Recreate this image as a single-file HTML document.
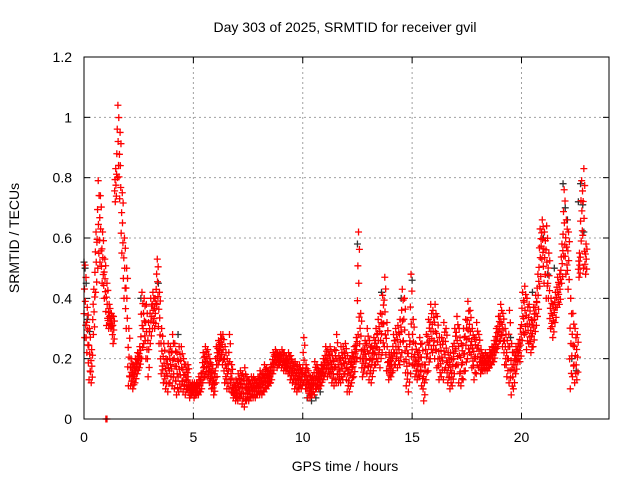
<!DOCTYPE html>
<html><head><meta charset="utf-8"><style>
body{margin:0;background:#fff}
svg{display:block;font-family:"Liberation Sans",sans-serif}
</style></head><body>
<svg id="chart" width="640" height="480">
<g id="grid"></g>
<g id="axes"></g>
<g id="black"></g>
<g id="red"></g>
<rect x="84" y="57" width="525" height="362" fill="none" stroke="#000" stroke-width="1"/>
<text x="345" y="32" font-size="14" text-anchor="middle">Day 303 of 2025, SRMTID for receiver gvil</text>
<text x="345" y="471" font-size="14" text-anchor="middle">GPS time / hours</text>
<text x="19" y="238" font-size="14" text-anchor="middle" transform="rotate(-90 19 238)">SRMTID / TECUs</text>
</svg>
<script>
const xTicks=[0,5,10,15,20];
const yTicks=[0,0.2,0.4,0.6,0.8,1.0,1.2];
const yTickLabels=["0","0.2","0.4","0.6","0.8","1","1.2"];
const tStart=0, tStep=0.1;
const redHi=[.51,.37,.30,.23,.43,.62,.79,.74,.62,.53,.45,.38,.35,.34,.83,1.04,.95,.75,.60,.50,
.30,.20,.18,.20,.22,.24,.42,.40,.38,.32,.40,.42,.40,.53,.42,.30,.25,.20,.25,.24,
.28,.25,.22,.24,.24,.20,.18,.18,.12,.12,.12,.12,.14,.15,.22,.24,.23,.20,.18,.15,
.24,.26,.28,.28,.24,.20,.28,.18,.12,.13,.15,.16,.15,.17,.14,.13,.14,.14,.13,.14,
.16,.15,.18,.17,.16,.18,.22,.23,.22,.22,.23,.22,.21,.22,.21,.19,.19,.18,.18,.16,
.27,.18,.16,.14,.14,.19,.18,.16,.18,.20,.24,.23,.24,.21,.23,.28,.21,.24,.24,.25,
.21,.20,.22,.24,.27,.62,.35,.23,.26,.30,.26,.24,.27,.30,.33,.35,.41,.47,.32,.22,
.22,.28,.30,.31,.33,.43,.40,.24,.28,.48,.33,.25,.22,.27,.25,.18,.28,.33,.38,.36,
.38,.34,.27,.27,.32,.30,.22,.22,.24,.30,.34,.30,.25,.30,.33,.39,.36,.30,.27,.32,
.28,.23,.21,.22,.21,.23,.24,.26,.30,.34,.38,.35,.30,.26,.36,.25,.22,.24,.25,.30,
.42,.44,.40,.38,.33,.37,.41,.48,.63,.66,.62,.64,.55,.40,.38,.42,.47,.48,.58,.76,
.66,.62,.40,.35,.30,.28,.55,.79,.83,.58];
const redLo=[.27,.22,.13,.12,.28,.42,.50,.52,.45,.40,.31,.30,.30,.25,.72,.80,.73,.55,.40,.30,
.11,.11,.10,.12,.15,.17,.20,.25,.20,.14,.25,.30,.30,.38,.25,.15,.12,.10,.09,.12,
.11,.10,.08,.09,.10,.09,.08,.10,.07,.08,.07,.08,.08,.09,.12,.14,.14,.12,.10,.08,
.12,.18,.20,.18,.12,.10,.10,.09,.07,.06,.06,.07,.05,.04,.06,.06,.07,.07,.07,.08,
.08,.08,.09,.10,.11,.12,.15,.18,.17,.18,.17,.16,.16,.15,.13,.12,.10,.09,.10,.10,
.12,.10,.07,.07,.08,.08,.10,.10,.11,.13,.15,.14,.15,.12,.11,.12,.12,.12,.13,.15,
.09,.09,.12,.14,.19,.28,.20,.14,.17,.15,.13,.12,.16,.18,.19,.17,.22,.24,.16,.13,
.14,.16,.18,.17,.18,.22,.19,.11,.09,.15,.18,.14,.13,.14,.11,.06,.13,.16,.20,.22,
.20,.17,.13,.14,.13,.17,.12,.10,.11,.15,.18,.12,.11,.13,.16,.20,.22,.17,.13,.15,
.17,.15,.16,.16,.16,.17,.18,.19,.22,.24,.26,.24,.18,.14,.12,.08,.10,.15,.19,.19,
.26,.28,.23,.25,.22,.24,.29,.34,.44,.53,.45,.40,.40,.30,.27,.32,.37,.38,.45,.54,
.48,.43,.10,.14,.12,.13,.47,.59,.50,.48];
const outlierT=[1.0,1.05];
const outlierV=[0.0,0.0];
const blackT=[0.0,0.05,0.1,0.15,0.25,2.6,3.4,4.3,10.2,10.4,10.6,10.8,12.5,13.6,14.5,15.0,19.5,20.5,21.0,21.2,21.5,21.9,22.0,22.1,22.3,22.5,22.6,22.7,22.8,22.85];
const blackV=[0.52,0.50,0.45,0.33,0.29,0.40,0.45,0.28,0.07,0.06,0.07,0.09,0.58,0.42,0.40,0.46,0.27,0.42,0.60,0.48,0.50,0.78,0.70,0.66,0.20,0.16,0.72,0.78,0.71,0.62];

const X0=84,X1=609,Y0=419,Y1=57,XMAX=24,YMAX=1.2;
const xs=t=>X0+(X1-X0)*t/XMAX;
const ys=v=>Y0-(Y0-Y1)*v/YMAX;
const NS="http://www.w3.org/2000/svg";
function mk(tag,attrs,parent){const e=document.createElementNS(NS,tag);for(const k in attrs)e.setAttribute(k,attrs[k]);parent.appendChild(e);return e;}
const grid=document.getElementById('grid'),axes=document.getElementById('axes');
xTicks.forEach(t=>{
  const x=xs(t);
  if(t>0){const g=mk('line',{x1:x,x2:x,y1:Y0,y2:Y1,stroke:'#a0a0a0','stroke-dasharray':'2,3'},grid);
  
  }
  mk('line',{x1:x,x2:x,y1:Y0,y2:Y0-6,stroke:'#000'},axes);
  mk('line',{x1:x,x2:x,y1:Y1,y2:Y1+6,stroke:'#000'},axes);
  const l=mk('text',{x:x,y:Y0+23,'font-size':14,'text-anchor':'middle'},axes);l.textContent=t;
  
  
});
yTicks.forEach((v,i)=>{
  const y=ys(v);
  if(v>0&&v<YMAX){const g=mk('line',{x1:X0,x2:X1,y1:y,y2:y,stroke:'#a0a0a0','stroke-dasharray':'2,3'},grid);
  
  }
  mk('line',{x1:X0,x2:X0+6,y1:y,y2:y,stroke:'#000'},axes);
  mk('line',{x1:X1,x2:X1-6,y1:y,y2:y,stroke:'#000'},axes);
  const l=mk('text',{x:X0-12,y:y+5,'font-size':14,'text-anchor':'end'},axes);l.textContent=yTickLabels[i];
  
  
});
function cross(g,t,v,col){
  const x=xs(t),y=ys(v);
  const p=mk('path',{d:`M${x-3.5},${y}H${x+3.5}M${x},${y-3.5}V${y+3.5}`,stroke:col,'stroke-width':1.3,fill:'none'},g);
  
  
}
const bg=document.getElementById('black'),rg=document.getElementById('red');
blackT.forEach((t,i)=>cross(bg,t,blackV[i],'#333'));
redHi.forEach((h,i)=>{
  const t=tStart+i*tStep,l=redLo[i];
  const fr=[0,0.17,0.33,0.5,0.67,0.83,1],off=[0.03,0.08,0.0,0.06,0.02,0.09,0.05];
  fr.forEach((f,k)=>cross(rg,t+off[k],l+(h-l)*f,'#ff0000'));
});
outlierT.forEach((t,i)=>cross(rg,t,outlierV[i],'#ff0000'));
</script>
</body></html>
